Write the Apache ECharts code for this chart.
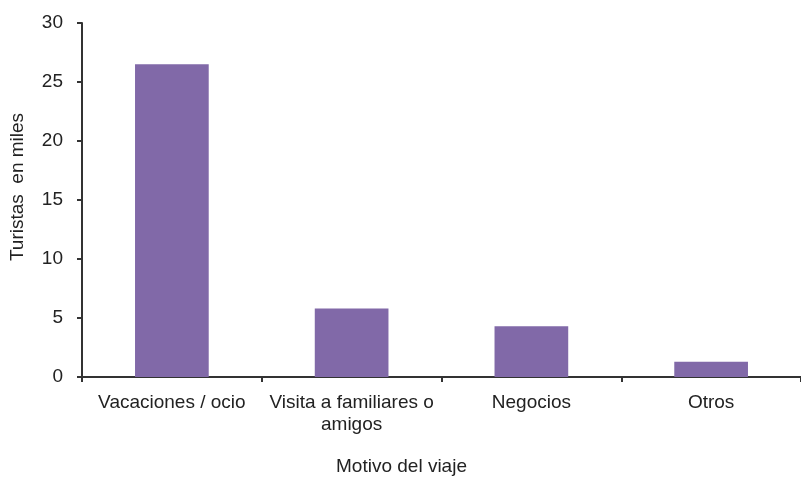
<!DOCTYPE html>
<html>
<head>
<meta charset="utf-8">
<script src="https://cdn.jsdelivr.net/npm/echarts@6/dist/echarts.min.js"></script>
<style>html,body{margin:0;padding:0;background:#fff}#c{width:801px;height:481px}</style>
</head>
<body>
<div id="c"></div>
<script>
var categories = ['Vacaciones / ocio', 'Visita a familiares o amigos', 'Negocios', 'Otros'];
var touristValues = [26.5, 5.8, 4.3, 1.3];
var yAxisTitle = 'Turistas  en miles';
var xAxisTitle = 'Motivo del viaje';

var chart = echarts.init(document.getElementById('c'), null, {renderer: 'canvas'});
var font = 'Liberation Sans, Arial, sans-serif';
chart.setOption({
  animation: false,
  grid: {left: 82, top: 23, width: 727, bottom: 100, containLabel: false},
  xAxis: {
    type: 'category',
    data: categories,
    name: xAxisTitle,
    nameLocation: 'middle',
    nameGap: 80,
    nameTextStyle: {fontFamily: font, fontSize: 19, color: '#222', padding: [0, 80, 0, 0]},
    axisLine: {lineStyle: {color: '#333', width: 2}},
    axisTick: {show: true, alignWithLabel: false, length: 5, lineStyle: {color: '#333', width: 2}},
    axisLabel: {
      interval: 0, margin: 15, fontFamily: font, fontSize: 19, color: '#222', lineHeight: 22,
      formatter: function (v) { return v.replace(' amigos', '\namigos'); }
    }
  },
  yAxis: {
    type: 'value',
    min: 0, max: 30, interval: 5,
    name: yAxisTitle,
    nameLocation: 'middle',
    nameGap: 55,
    nameRotate: 90,
    nameTextStyle: {fontFamily: font, fontSize: 19, color: '#222', padding: [0, 0, 0, 26]},
    axisLine: {show: true, lineStyle: {color: '#333', width: 2}},
    axisTick: {show: true, length: 5, lineStyle: {color: '#333', width: 2}},
    splitLine: {show: false},
    axisLabel: {margin: 19, fontFamily: font, fontSize: 19, color: '#222'}
  },
  series: [{
    type: 'bar',
    data: touristValues,
    barWidth: '41%',
    itemStyle: {color: '#8169a8'}
  }]
});
</script>
</body>
</html>
